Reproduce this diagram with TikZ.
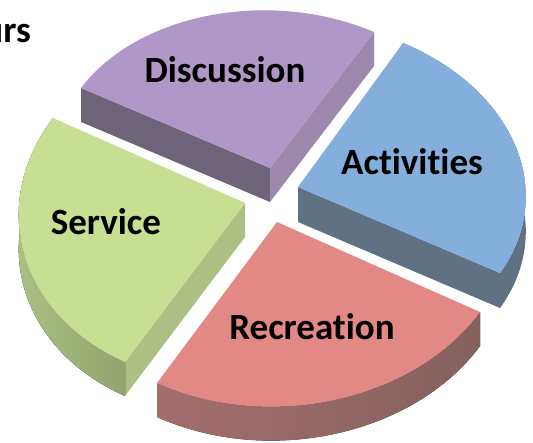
\documentclass[tikz,border=0pt]{standalone}
\usepackage{fontspec}
\setmainfont[Ligatures=NoCommon]{Carlito}
\usepackage{tikz}

\definecolor{discTop}{HTML}{AF98C8}
\definecolor{discFront}{HTML}{6E647A}
\definecolor{discRight}{HTML}{9B88AC}
\definecolor{actTop}{HTML}{84AFDD}
\definecolor{actSide}{HTML}{5F7182}
\definecolor{servTop}{HTML}{C8DF93}
\definecolor{servRight}{HTML}{ADBF83}
\definecolor{servSideL}{HTML}{B3C78A}
\definecolor{servSide}{HTML}{92A46E}
\definecolor{recTop}{HTML}{E28985}
\definecolor{recSideL}{HTML}{A26E6D}
\definecolor{recSide}{HTML}{85615E}

\tikzset{slicetext/.style={font=\fontsize{37}{42}\selectfont\bfseries, inner sep=0pt}}

\begin{document}
\begin{tikzpicture}[x=1pt,y=-1pt]
	\useasboundingbox (0,0) rectangle (533,443);
	% Discussion
	\coordinate (dO) at (270,168);  \coordinate (dOb) at (270,202);
	\coordinate (dA) at (81,88);    \coordinate (dAb) at (81,122);
	\coordinate (dB) at (374,32);   \coordinate (dBb) at (374,66);
	\fill[discFront] (dA) -- (dO) -- (dOb) -- (dAb) -- cycle;
	\fill[discRight] (dO) -- (dB) -- (dBb) -- (dOb) -- cycle;
	\fill[discTop] (dO) -- (dA) .. controls (138,13) and (270,-12) .. (dB) -- cycle;
	% Activities
	\coordinate (aO) at (298,187);  \coordinate (aOb) at (298,222);
	\coordinate (aP) at (403,43);   \coordinate (aPb) at (403,78);
	\coordinate (aQ) at (500,273);  \coordinate (aQb) at (500,308);
	\fill[actSide] (aO) -- (aQ) -- (aQb) -- (aOb) -- cycle;
	\fill[actSide] (aP) .. controls (515,90) and (558,193) .. (aQ) -- (aQb)
		.. controls (558,228) and (515,125) .. (aPb) -- cycle;
	\fill[actTop] (aO) -- (aP) .. controls (515,90) and (558,193) .. (aQ) -- cycle;
	% Service
	\coordinate (sO) at (245,203);  \coordinate (sOb) at (245,237);
	\coordinate (sP) at (53,118);   \coordinate (sPb) at (53,152);
	\coordinate (sQ) at (125,362);  \coordinate (sQb) at (125,396);
	\fill[servRight] (sO) -- (sQ) -- (sQb) -- (sOb) -- cycle;
	\fill[left color=servSideL, right color=servSide] (sP) .. controls (-13,206) and (19,315) .. (sQ) -- (sQb)
		.. controls (19,349) and (-13,240) .. (sPb) -- cycle;
	\fill[servTop] (sO) -- (sP) .. controls (-13,206) and (19,315) .. (sQ) -- cycle;
	% Recreation
	\coordinate (rO) at (277,222);  \coordinate (rOb) at (277,256);
	\coordinate (rP) at (157,383);  \coordinate (rPb) at (157,417);
	\coordinate (rQ) at (480,312);  \coordinate (rQb) at (480,346);
	\fill[left color=recSideL, right color=recSide] (rP) .. controls (269,433) and (414,401) .. (rQ) -- (rQb)
		.. controls (414,435) and (269,467) .. (rPb) -- cycle;
	\fill[recTop] (rO) -- (rP) .. controls (269,433) and (414,401) .. (rQ) -- cycle;

	\node[slicetext, anchor=base] (discussion) at (225,83) {Discussion};
	\node[slicetext, anchor=base] (activities) at (412,175) {Activities};
	\node[slicetext, anchor=base] (service) at (106,235) {Service};
	\node[slicetext, anchor=base] (recreation) at (312,340) {Recreation};
	\node[slicetext, anchor=base east] (urs) at (31,43) {urs};
\end{tikzpicture}
\end{document}
